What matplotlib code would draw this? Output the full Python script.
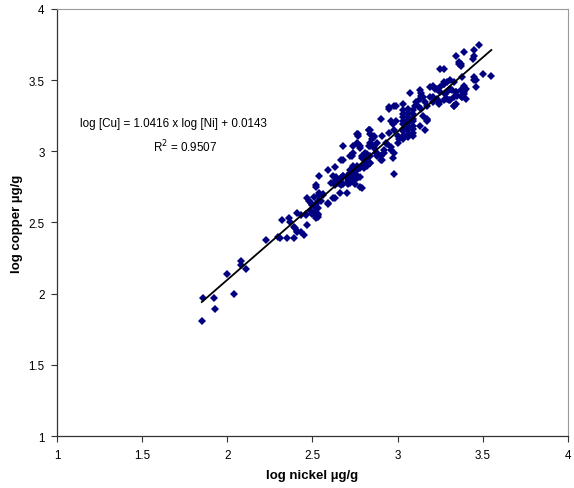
import matplotlib
matplotlib.use('Agg')
import matplotlib.pyplot as plt
import numpy as np

# log nickel (x) / log copper (y)
log_ni = [
    1.85, 1.86, 1.92, 1.93, 2.04, 2.00, 2.08, 2.08, 2.11, 2.23, 2.30,
    2.31, 2.35, 2.39, 2.32, 2.36, 2.37, 2.39, 2.40, 2.41, 2.43, 2.45, 2.41, 2.41, 2.43,
    2.47, 2.46, 2.49, 2.48, 2.50, 2.52, 2.53, 2.53, 2.52, 2.52, 2.54, 2.54, 2.56, 2.55,
    2.59, 2.47, 2.49, 2.51, 2.52, 2.53, 2.54, 2.56, 2.53, 2.51, 2.53, 2.46, 2.50, 2.52, 2.52,
    2.59, 2.62, 2.59, 2.63, 2.67, 2.61, 2.64, 2.66, 2.63, 2.68, 2.68, 2.70, 2.72, 2.74,
    2.71, 2.74, 2.75, 2.76, 2.77, 2.68, 2.72, 2.74, 2.77, 2.77, 2.78, 2.79, 2.79, 2.80,
    2.81, 2.82, 2.84, 2.83, 2.85, 2.84, 2.86, 2.87, 2.88,
    2.63, 2.66, 2.70, 2.68, 2.73, 2.62, 2.63, 2.65, 2.67, 2.70, 2.72, 2.74, 2.76, 2.79,
    2.82, 2.84, 2.88, 2.92, 2.96, 2.72, 2.75, 2.76, 2.78, 2.90, 2.68, 2.71, 2.74, 2.67, 2.78,
    3.07, 3.14, 2.95, 2.95, 2.98, 2.90, 2.76, 2.83, 2.84, 2.86, 2.96, 2.97,
    3.03, 3.03, 3.03, 3.03, 3.03, 3.03, 3.03, 3.03, 3.03, 3.03,
    3.06, 3.06, 3.06, 3.06, 3.06, 3.06, 3.06, 3.06, 3.06,
    3.09, 3.09, 3.09, 3.09, 3.09, 3.09, 3.09, 3.09,
    3.10, 3.11, 3.13, 3.15, 3.16, 3.17, 3.17, 3.17,
    2.74, 2.76, 2.78, 2.79, 2.81, 2.82, 2.84, 2.86, 2.88, 2.90, 2.92, 2.94, 2.96, 2.98,
    2.91, 2.97, 3.00, 3.01, 2.74, 2.78, 2.82, 2.84, 2.72,
    3.36, 3.37, 3.25, 3.27, 3.13, 3.14, 3.19, 3.21, 3.23, 3.25, 3.27, 3.29, 3.31, 3.32,
    3.34, 3.35, 3.37, 3.39, 3.38, 3.40, 3.29, 3.31, 3.33, 3.19, 3.21, 3.23,
    2.98, 2.99, 2.98, 3.00, 3.12, 3.14, 3.15, 3.17, 3.13, 3.16,
    3.48, 3.45, 3.45, 3.44, 3.39, 3.34, 3.36, 3.37, 3.55, 3.50, 3.45, 3.46, 3.39, 3.40,
    3.38, 3.39, 3.34, 3.33, 3.31, 3.28, 3.27, 3.25, 3.22, 3.21, 3.24, 3.27, 3.30, 3.33, 3.38,
    3.46, 3.45, 3.38, 3.37, 3.34, 3.33, 3.27, 3.31, 3.29, 3.24, 2.99, 2.77, 2.83, 2.86,
    2.91, 2.95, 2.93, 2.84,
]
log_cu = [
    1.81, 1.97, 1.97, 1.89, 2.00, 2.14, 2.23, 2.20, 2.17, 2.38, 2.40,
    2.39, 2.39, 2.39, 2.52, 2.53, 2.50, 2.47, 2.46, 2.44, 2.43, 2.41, 2.43, 2.57, 2.55,
    2.48, 2.56, 2.58, 2.65, 2.62, 2.60, 2.54, 2.56, 2.76, 2.75, 2.83, 2.69, 2.70, 2.65,
    2.64, 2.67, 2.64, 2.68, 2.63, 2.65, 2.71, 2.69, 2.60, 2.57, 2.55, 2.55, 2.56, 2.55, 2.53,
    2.63, 2.67, 2.87, 2.89, 2.94, 2.78, 2.82, 2.79, 2.76, 2.83, 2.77, 2.81, 2.82, 2.79,
    2.77, 2.85, 2.84, 2.87, 2.82, 3.04, 2.97, 2.99, 3.12, 3.05, 3.04, 2.74, 2.90, 2.88,
    2.92, 2.95, 2.97, 3.04, 3.09, 3.15, 3.04, 2.99, 3.06,
    2.67, 2.71, 2.71, 2.94, 2.97, 2.83, 2.79, 2.78, 2.81, 2.83, 2.85, 2.88, 2.90, 2.95,
    2.98, 2.92, 2.97, 2.99, 3.01, 2.78, 2.77, 2.81, 2.82, 2.94, 2.83, 2.79, 2.82, 2.76, 2.75,
    3.41, 3.41, 3.31, 3.30, 2.84, 3.23, 3.12, 3.15, 3.12, 3.10, 3.21, 3.19,
    3.09, 3.11, 3.14, 3.16, 3.19, 3.21, 3.24, 3.26, 3.29, 3.33,
    3.10, 3.12, 3.15, 3.17, 3.20, 3.22, 3.24, 3.27, 3.30,
    3.11, 3.13, 3.16, 3.18, 3.21, 3.23, 3.26, 3.29,
    3.32, 3.35, 3.37, 3.38, 3.35, 3.32, 3.23, 3.21,
    3.04, 3.06, 3.02, 2.97, 2.99, 2.95, 3.04, 3.02, 2.99, 2.97, 3.01, 3.05, 3.03, 2.99,
    2.94, 2.95, 3.06, 3.09, 2.90, 2.88, 2.90, 2.92, 2.87,
    3.63, 3.61, 3.58, 3.58, 3.43, 3.39, 3.45, 3.46, 3.44, 3.45, 3.47, 3.49, 3.50, 3.43,
    3.42, 3.39, 3.43, 3.42, 3.38, 3.37, 3.37, 3.36, 3.32, 3.38, 3.35, 3.37,
    3.32, 3.21, 3.15, 3.11, 3.32, 3.30, 3.25, 3.22, 3.18, 3.15,
    3.75, 3.71, 3.67, 3.65, 3.70, 3.67, 3.61, 3.60, 3.53, 3.54, 3.52, 3.45, 3.46, 3.44,
    3.43, 3.40, 3.42, 3.38, 3.44, 3.40, 3.47, 3.42, 3.44, 3.38, 3.35, 3.36, 3.36, 3.32, 3.38,
    3.50, 3.50, 3.52, 3.39, 3.33, 3.49, 3.49, 3.44, 3.42, 3.33, 3.32, 3.11, 3.15, 3.11,
    3.11, 3.13, 3.06, 3.06,
]

# trendline from Excel
slope = 1.0416
intercept = 0.0143
r2 = 0.9507

ticks = [1, 1.5, 2, 2.5, 3, 3.5, 4]
tick_labels = ['1', '1.5', '2', '2.5', '3', '3.5', '4']

plt.rcParams['font.family'] = ['Liberation Sans', 'DejaVu Sans']

fig = plt.figure(figsize=(5.74, 4.89), dpi=100)
ax = fig.add_axes([0.0993, 0.1063, 0.8902, 0.8733])

ax.plot(log_ni, log_cu, linestyle='none', marker='D', markersize=4.5,
        color='#000080', markeredgewidth=0)

xs = np.array([min(log_ni), max(log_ni)])
ax.plot(xs, slope * xs + intercept, color='black', linewidth=1.3)

ax.text(1.135, 3.20, 'log [Cu] = %.4f x log [Ni] + %.4f' % (slope, intercept),
        fontsize=8.4, ha='left', va='center')
ax.text(1.75, 3.04, 'R$^2$ = %.4f' % r2, fontsize=8.4, ha='center', va='center')

ax.set_xlim(1, 4)
ax.set_ylim(1, 4)
ax.set_xticks(ticks)
ax.set_xticklabels(tick_labels)
ax.set_yticks(ticks)
ax.set_yticklabels(tick_labels)
ax.tick_params(direction='out', length=4, width=0.8, labelsize=8.4, colors='#333333',
               labelcolor='black', pad=5)

ax.set_xlabel('log nickel µg/g', fontsize=9.5, fontweight='bold', labelpad=6)
ax.set_ylabel('log copper µg/g', fontsize=9.5, fontweight='bold', labelpad=4)

for side in ['left', 'bottom']:
    ax.spines[side].set_color('#333333')
    ax.spines[side].set_linewidth(0.9)
for side in ['top', 'right']:
    ax.spines[side].set_color('#999999')
    ax.spines[side].set_linewidth(0.8)

plt.savefig('out.png', dpi=100)
